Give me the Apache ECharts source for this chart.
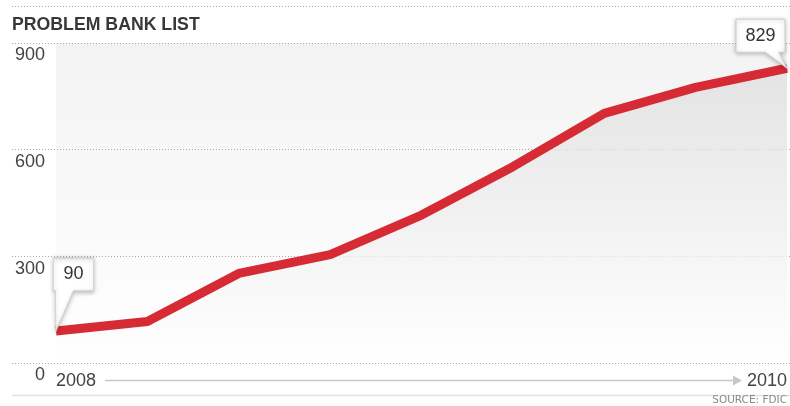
<!DOCTYPE html>
<html>
<head>
<meta charset="utf-8">
<script src="https://cdn.jsdelivr.net/npm/echarts@6/dist/echarts.min.js"></script>
<style>html,body{margin:0;padding:0;background:#fff}#c{width:790px;height:406px}</style>
</head>
<body>
<div id="c"></div>
<script>
const categories = ['2008 Q1','2008 Q2','2008 Q4','2009 Q1','2009 Q2','2009 Q3','2009 Q4','2010 Q1','2010 Q2'];
const problemBanks = [90, 117, 252, 305, 416, 552, 702, 775, 829];
const yTicks = [0, 300, 600, 900];
const xTickLabels = ['2008', '2010'];
const titleText = 'PROBLEM BANK LIST';
const sourceText = 'SOURCE: FDIC';

const FONT = '"Liberation Sans", Arial, sans-serif';
const last = problemBanks.length - 1;

const chart = echarts.init(document.getElementById('c'), null, {renderer: 'canvas'});
chart.setOption({
  animation: false,
  backgroundColor: '#fff',
  title: [
    {text: titleText, left: 12, top: 16, padding: 0,
     textStyle: {fontFamily: FONT, fontWeight: 'bold', fontSize: 17.7, color: '#383838'}},
    {text: sourceText, right: 3, bottom: 0, padding: 0,
     textStyle: {fontFamily: '"DejaVu Sans", sans-serif', fontWeight: 'normal', fontSize: 10.5, color: '#8a8a8a'}}
  ],
  grid: [
    {left: 12, right: 0, top: 43, bottom: 43, show: false},
    {left: 56, right: 2, top: 43, bottom: 43, show: true, borderWidth: 0,
     backgroundColor: {type: 'linear', x: 0, y: 0, x2: 0, y2: 1,
       colorStops: [{offset: 0, color: '#f3f3f3'}, {offset: 1, color: '#ffffff'}]}}
  ],
  xAxis: [
    {gridIndex: 0, type: 'value', show: false, min: 0, max: 1},
    {gridIndex: 1, type: 'category', data: categories, boundaryGap: false,
     axisLine: {show: false}, axisTick: {show: false},
     axisLabel: {interval: 0, margin: 9, fontFamily: FONT, fontSize: 18, color: '#444',
       alignMinLabel: 'left', alignMaxLabel: 'right',
       formatter: (v, i) => i === 0 ? xTickLabels[0] : (i === last ? xTickLabels[1] : '')}}
  ],
  yAxis: [
    {gridIndex: 0, type: 'value', min: yTicks[0], max: yTicks[yTicks.length - 1], interval: yTicks[1] - yTicks[0],
     axisLine: {show: false}, axisTick: {show: false},
     splitLine: {show: true, lineStyle: {color: '#a8a8a8', width: 1, type: [1, 2]}},
     axisLabel: {inside: true, margin: 33, align: 'right', verticalAlign: 'top',
       lineHeight: 25,
       fontFamily: FONT, fontSize: 18, color: '#444'}},
    {gridIndex: 1, type: 'value', min: yTicks[0], max: yTicks[yTicks.length - 1], interval: yTicks[1] - yTicks[0],
     show: false, splitLine: {show: false}}
  ],
  graphic: [
    {type: 'line', z: 1, shape: {x1: 12, y1: 6.5, x2: 790, y2: 6.5},
     style: {stroke: '#a8a8a8', lineWidth: 1, lineDash: [1, 2]}},
    {type: 'line', z: 1, shape: {x1: 12, y1: 395.5, x2: 790, y2: 395.5},
     style: {stroke: '#e2e2e2', lineWidth: 1.5}},
    {type: 'line', z: 1, shape: {x1: 105, y1: 380.5, x2: 735, y2: 380.5},
     style: {stroke: '#c8c8c8', lineWidth: 1.5}},
    {type: 'polygon', z: 1, shape: {points: [[733, 375.5], [742, 380.5], [733, 385.5]]},
     style: {fill: '#c8c8c8'}}
  ],
  series: [{
    type: 'line',
    xAxisIndex: 1, yAxisIndex: 1,
    data: problemBanks,
    symbol: 'none',
    lineStyle: {color: '#d62b35', width: 9},
    areaStyle: {color: {type: 'linear', x: 0, y: 0, x2: 0, y2: 1,
      colorStops: [{offset: 0, color: '#dcdcdc'}, {offset: 1, color: '#ffffff'}]}},
    markPoint: {
      silent: true,
      data: [
        {coord: [0, problemBanks[0]], value: problemBanks[0],
         symbol: 'path://M0,0 L40,0 L40,33 L20,33 L2.5,73 L2,33 L0,33 Z',
         symbolSize: [40, 73], symbolOffset: [17.5, -36.5],
         label: {offset: [0, -20]}},
        {coord: [last, problemBanks[last]], value: problemBanks[last],
         symbol: 'path://M0,0 L49,0 L49,33 L43,33 L51,49 L29,33 L0,33 Z',
         symbolSize: [51, 49], symbolOffset: [-25.5, -24.5],
         label: {offset: [-1, -8]}}
      ],
      itemStyle: {color: '#fff', borderColor: '#cfcfcf', borderWidth: 1,
        shadowBlur: 4, shadowColor: 'rgba(0,0,0,0.25)', shadowOffsetY: 1},
      label: {show: true, position: 'inside', fontFamily: FONT, fontSize: 18, color: '#333',
        formatter: p => String(p.value)}
    }
  }]
});
</script>
</body>
</html>
